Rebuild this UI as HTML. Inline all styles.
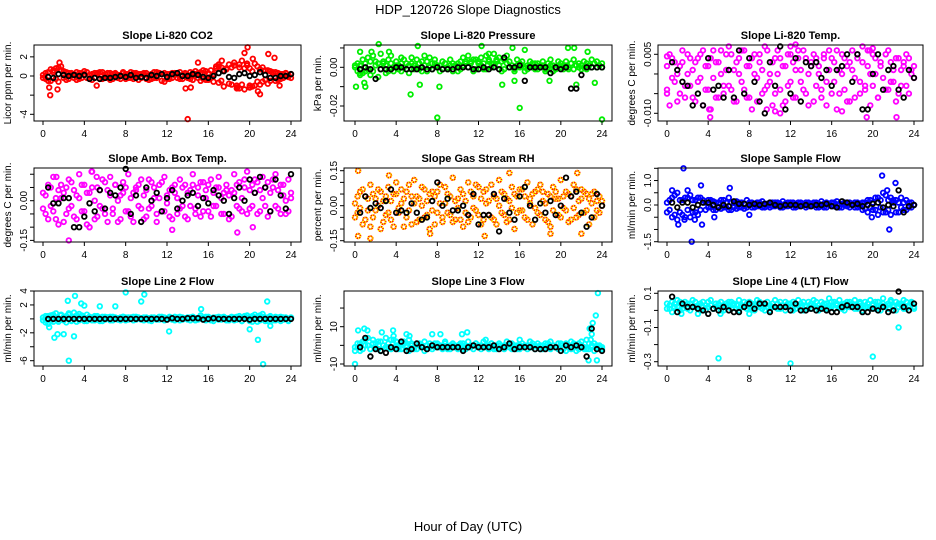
<!DOCTYPE html>
<html><head><meta charset="utf-8"><style>
html,body{margin:0;padding:0;background:#fff}
svg{display:block}
text{font-family:"Liberation Sans",sans-serif;fill:#000}
</style></head><body>
<svg id="chart" width="936" height="540" viewBox="0 0 936 540" xmlns="http://www.w3.org/2000/svg">
<text x="468" y="14" font-size="13" text-anchor="middle">HDP_120726  Slope Diagnostics</text>
<text x="468" y="531" font-size="13" text-anchor="middle">Hour of Day (UTC)</text>
</svg>
<script>
const hours=[0,0.25,0.5,0.75,1,1.25,1.5,1.75,2,2.25,2.5,2.75,3,3.25,3.5,3.75,4,4.25,4.5,4.75,5,5.25,5.5,5.75,6,6.25,6.5,6.75,7,7.25,7.5,7.75,8,8.25,8.5,8.75,9,9.25,9.5,9.75,10,10.25,10.5,10.75,11,11.25,11.5,11.75,12,12.25,12.5,12.75,13,13.25,13.5,13.75,14,14.25,14.5,14.75,15,15.25,15.5,15.75,16,16.25,16.5,16.75,17,17.25,17.5,17.75,18,18.25,18.5,18.75,19,19.25,19.5,19.75,20,20.25,20.5,20.75,21,21.25,21.5,21.75,22,22.25,22.5,22.75,23,23.25,23.5,23.75,24];
const blkHours=[0.5,1,1.5,2,2.5,3,3.5,4,4.5,5,5.5,6,6.5,7,7.5,8,8.5,9,9.5,10,10.5,11,11.5,12,12.5,13,13.5,14,14.5,15,15.5,16,16.5,17,17.5,18,18.5,19,19.5,20,20.5,21,21.5,22,22.5,23,23.5,24];
const xTicks=[0,4,8,12,16,20,24];

// CO2
const co2A=[0.1,-0.3,0.4,-0.5,0.6,0.8,-0.6,1.0,0.5,-0.4,0.3,0.2,-0.2,0.4,-0.3,0.3,0.5,-0.2,0.1,-0.4,0.3,0.2,-0.3,0.4,-0.1,0.3,-0.4,0.2,0.3,-0.2,0.1,0.4,-0.3,0.2,-0.2,0.3,0.1,-0.4,0.2,0.3,-0.3,0.1,0.2,-0.2,0.4,0.3,-0.5,-0.6,0.2,-0.3,0.3,0.1,-0.2,0.4,-0.3,0.2,0.1,-0.3,0.3,0.5,-0.2,0.4,0.6,-0.4,0.3,-0.2,0.2,0.8,1.2,-0.5,0.6,0.7,-0.8,0.9,1.1,-1.0,1.2,-0.9,0.8,1.3,-1.2,0.5,-1.0,1.0,0.7,-0.6,0.6,-0.8,0.5,0.4,-0.5,0.3,-0.3,0.2,0.3,-0.1,0.2];
const co2B=[-0.2,0.3,-0.5,0.7,0.4,-0.3,0.9,0.6,-0.2,0.4,-0.3,0.3,0.2,-0.4,0.3,-0.2,0.2,0.4,-0.3,0.2,-0.2,0.3,0.4,-0.3,0.2,-0.2,0.3,-0.3,0.2,0.1,-0.3,0.3,0.2,-0.2,0.4,-0.3,0.3,0.2,-0.2,0.1,0.3,-0.4,-0.3,0.4,-0.2,0.3,0.2,0.3,-0.3,0.2,-0.2,0.3,0.2,-0.3,0.1,0.3,-0.2,0.4,-0.4,0.2,0.3,-0.5,-0.3,0.5,-0.4,0.6,-0.6,1.0,-0.7,0.9,-1.1,0.8,1.2,-0.9,1.4,-1.3,0.9,1.6,-1.4,1.1,0.8,-1.1,1.3,-0.6,-0.9,0.9,-0.4,0.6,-0.5,0.3,0.4,-0.4,0.2,-0.2,0.3,0.1,-0.2];
const co2K=[-0.1,-0.2,0.2,0.1,0.0,0.1,0.0,0.1,-0.3,-0.2,-0.3,-0.2,-0.2,-0.1,0.0,-0.1,0.1,-0.2,-0.1,-0.2,0.1,0.0,0.2,-0.1,0.2,0.3,0.0,0.0,0.2,0.1,-0.1,-0.2,0.0,0.3,0.5,-0.1,-0.2,0.2,0.3,0.0,0.1,0.4,0.1,-0.2,-0.2,0.0,0.0,0.2];
const co2OX=[14,0.7,0.6,1.4,1.6,5.2,13.8,14.3,15,17.3,17,19.5,19.8,20.3,21.8,22.4,21,20.8,22.9,19,18.8,20];
const co2OY=[-4.5,-2,-1.2,-1.4,1.4,-1,-1.3,-1.2,1.4,1.6,1,2.4,3,1.8,2.3,1.9,-1.9,-1.6,-1,-1.3,-1.2,-1];

// Pressure
const presA=[0.000,0.002,-0.003,0.004,-0.002,0.005,-0.004,0.006,0.003,-0.005,0.007,0.002,-0.003,0.004,0.006,-0.002,0.003,0.001,-0.002,0.004,0.002,-0.003,0.005,0.001,0.004,-0.001,0.003,0.006,-0.002,0.005,0.002,0.004,0.001,-0.002,0.003,0.002,-0.001,0.004,0.002,0.001,-0.002,0.003,0.005,0.002,0.006,0.003,-0.002,0.004,0.002,0.005,-0.001,0.006,0.004,0.002,0.007,0.003,0.005,-0.002,0.004,0.006,0.003,0.001,-0.001,0.004,0.002,0.003,-0.002,0.001,0.003,0.002,-0.001,0.002,0.001,0.003,-0.002,0.002,0.004,0.001,-0.001,0.003,0.002,0.001,0.003,-0.001,0.002,0.004,0.001,0.002,-0.001,0.003,0.002,0.001,0.004,0.002,0.003,0.001,0.002];
const presB=[0.001,-0.002,0.001,-0.003,0.002,-0.001,0.003,-0.002,0.001,0.002,-0.001,0.003,0.001,-0.002,0.002,0.000,0.001,-0.001,0.002,0.000,-0.001,0.001,0.002,-0.001,0.000,0.002,-0.002,0.001,0.003,0.000,-0.001,0.002,0.000,0.001,-0.001,0.002,0.000,0.001,-0.002,0.001,0.002,-0.001,0.001,0.003,0.000,0.002,0.004,-0.001,0.003,0.001,0.002,-0.001,0.003,0.000,0.002,0.004,0.001,0.003,-0.001,0.002,0.000,0.001,-0.002,0.001,0.000,0.001,0.000,-0.001,0.001,0.000,0.002,-0.001,0.000,0.001,-0.001,0.000,0.001,-0.002,0.000,0.001,0.000,-0.001,0.001,0.000,0.002,-0.001,0.001,0.000,0.001,0.000,-0.001,0.001,0.000,0.002,0.000,0.001,0.000];
const presK=[-0.001,0.000,-0.001,-0.006,-0.001,-0.001,-0.001,0.000,0.000,-0.001,-0.001,-0.001,0.000,-0.001,-0.001,0.000,-0.001,-0.001,-0.001,0.000,0.000,0.000,-0.001,-0.001,0.000,-0.001,0.000,-0.001,0.005,0.000,0.000,0.001,-0.007,0.000,0.000,0.000,0.000,-0.003,0.000,-0.001,0.000,-0.011,-0.011,-0.004,0.000,0.000,0.000,0.000];
const presOX=[0.1,0.5,1,1.6,2.3,3.3,4.5,5.4,6.1,6.3,8,8.2,12.3,13,14.3,15.3,15.5,16,16.5,18.9,20.7,21.3,21.5,22.6,23.3,24,0.5,0.9];
const presOY=[-0.010,0.008,-0.010,0.008,0.012,0.008,0.005,-0.014,0.011,-0.009,-0.026,-0.010,0.011,0.007,-0.009,0.010,-0.007,-0.021,0.009,-0.007,0.010,0.010,-0.009,0.008,-0.008,-0.027,-0.004,-0.008];

// Li-820 Temp
const tempA=[0.002,-0.008,0.004,-0.002,0.000,-0.005,0.003,-0.006,0.005,-0.003,0.001,-0.007,0.004,-0.001,0.006,-0.004,0.002,-0.009,0.006,0.003,-0.006,0.000,-0.003,0.005,0.007,-0.004,0.001,-0.007,0.004,-0.002,0.006,-0.006,0.002,-0.009,0.005,-0.001,0.003,-0.005,0.007,-0.003,0.000,-0.008,0.004,0.006,-0.004,0.002,-0.007,0.005,-0.002,0.003,-0.006,0.006,0.001,-0.004,0.004,-0.008,0.002,0.005,-0.003,0.000,-0.006,0.004,-0.002,0.006,-0.005,0.003,-0.009,0.001,0.005,-0.004,0.002,-0.007,0.006,-0.001,0.004,-0.005,0.007,-0.003,0.002,-0.008,0.005,0.000,-0.006,0.003,0.008,-0.004,0.006,-0.002,0.001,-0.007,0.004,-0.003,0.002,0.005,-0.005,0.001,0.002];
const tempB=[-0.004,0.005,-0.001,0.003,-0.007,0.002,0.006,-0.003,0.000,0.004,-0.006,0.003,-0.002,0.005,-0.008,0.002,-0.004,0.004,-0.001,-0.006,0.003,0.006,-0.005,0.001,-0.003,0.005,-0.007,0.003,0.000,0.006,-0.004,0.002,-0.006,0.004,0.000,-0.007,0.005,0.001,-0.004,0.006,-0.002,0.003,-0.005,0.000,0.004,-0.008,0.002,-0.003,0.005,-0.006,0.001,0.004,-0.002,0.006,-0.005,0.000,0.003,-0.007,0.004,0.002,-0.004,0.005,-0.008,0.001,0.004,-0.002,0.006,-0.005,0.000,0.004,-0.007,0.003,0.001,-0.006,0.005,-0.002,0.003,-0.004,0.006,0.000,-0.003,0.004,-0.006,0.002,-0.001,0.005,-0.004,0.003,-0.002,0.004,-0.005,0.001,0.003,-0.003,0.004,0.000,-0.001];
const tempK=[0.003,0.001,-0.002,-0.003,-0.008,-0.005,-0.008,0.004,-0.004,-0.003,-0.006,0.001,-0.006,0.006,-0.005,0.004,-0.002,-0.007,-0.010,0.003,-0.003,0.007,-0.009,-0.005,0.004,-0.007,0.003,0.002,0.003,-0.001,0.001,-0.003,0.001,0.002,0.005,-0.002,0.005,-0.009,-0.009,0.000,0.005,-0.004,0.001,0.002,-0.004,-0.006,0.001,-0.001];
const tempOX=[12,12.5,19.7,20,4.2,11,17,22.3,19.4,9.7,10.5,4.1,0,0];
const tempOY=[0.007,0.0075,0.006,0.0065,-0.011,-0.010,-0.0095,-0.011,-0.011,-0.009,-0.0095,-0.009,-0.005,0.0045];

// Amb Box Temp
const ambA=[0.03,-0.05,0.06,-0.02,0.09,-0.07,0.04,0.01,-0.08,0.05,-0.03,0.07,-0.06,0.02,0.10,-0.04,0.06,-0.09,0.03,0.11,-0.07,0.05,-0.02,0.08,-0.05,0.04,0.09,-0.03,0.06,-0.08,0.02,0.07,-0.04,0.10,-0.06,0.03,0.05,-0.02,0.08,-0.07,0.04,-0.03,0.07,0.01,-0.08,0.06,-0.04,0.09,0.02,-0.06,0.05,0.03,-0.05,0.08,-0.02,0.06,-0.07,0.04,0.10,-0.03,0.05,-0.06,0.07,0.01,-0.04,0.08,-0.02,0.05,0.09,-0.05,0.03,0.06,-0.07,0.04,0.10,-0.02,0.07,-0.04,0.05,0.11,-0.03,0.06,0.08,-0.05,0.04,0.09,-0.02,0.07,-0.04,0.05,0.10,-0.03,0.06,0.02,-0.05,0.08,0.03];
const ambB=[-0.03,0.02,-0.07,0.05,-0.04,0.01,-0.09,0.06,0.03,-0.05,0.08,-0.02,0.04,-0.07,0.01,0.06,-0.04,0.03,-0.10,0.05,0.00,-0.06,0.04,-0.03,0.07,-0.08,0.02,-0.05,0.06,0.00,-0.07,0.03,0.05,-0.04,0.01,-0.08,0.04,0.06,-0.03,0.02,-0.06,0.08,-0.02,0.05,-0.05,0.01,0.07,-0.04,-0.01,0.04,-0.07,0.06,0.01,-0.03,0.05,-0.06,0.03,-0.02,0.06,-0.05,0.02,0.07,-0.04,0.04,0.06,-0.06,0.03,-0.02,0.05,0.01,-0.05,0.04,0.02,-0.06,0.03,0.06,-0.03,0.01,0.08,-0.05,0.04,-0.02,0.03,0.07,-0.04,0.01,0.05,-0.06,0.03,0.08,-0.02,0.04,-0.05,0.06,0.00,-0.04,0.01];
const ambK=[0.05,-0.01,-0.01,0.01,0.01,-0.10,-0.10,-0.06,-0.01,-0.04,0.04,-0.03,0.03,0.02,0.05,0.12,-0.05,0.02,-0.08,0.05,0.00,0.03,-0.04,0.01,0.04,-0.03,0.00,0.02,0.03,-0.02,0.01,-0.01,0.04,0.02,0.00,-0.05,0.01,0.05,0.00,0.08,0.03,0.09,0.05,-0.04,0.08,0.02,-0.03,0.10];
const ambOX=[2.5,4.7,5.2,18.8,12.5,4.5,20.3,1.3];
const ambOY=[-0.15,0.11,0.09,-0.12,-0.11,-0.10,-0.10,0.09];

// Gas Stream RH
const rhA=[0.01,-0.03,0.06,-0.08,0.04,-0.02,0.09,-0.05,0.03,0.07,-0.10,0.02,-0.04,0.08,-0.06,0.05,0.10,-0.03,0.01,-0.09,0.06,-0.02,0.04,0.11,-0.07,0.03,0.08,-0.05,0.02,-0.10,0.06,0.04,-0.03,0.09,-0.07,0.01,0.05,-0.04,0.12,-0.06,0.03,0.07,-0.09,0.02,0.10,-0.05,0.04,-0.02,0.08,-0.08,0.06,0.01,-0.04,0.09,-0.06,0.03,0.11,-0.03,0.05,-0.07,0.02,0.08,-0.10,0.04,-0.02,0.07,-0.05,0.10,0.01,-0.08,0.06,-0.03,0.09,0.02,-0.06,0.05,-0.09,0.08,0.03,-0.04,0.11,-0.01,0.06,-0.07,0.04,0.09,-0.05,0.02,0.07,-0.03,0.05,-0.08,0.01,0.06,-0.02,0.04,0.02];
const rhB=[-0.05,0.04,-0.01,0.07,-0.06,0.03,-0.09,0.05,-0.02,0.00,0.06,-0.07,0.04,-0.03,0.02,-0.09,0.05,-0.01,0.07,0.03,-0.05,0.09,-0.08,0.01,0.04,-0.06,0.00,0.07,-0.04,0.05,-0.02,-0.08,0.06,0.01,-0.05,0.08,-0.03,0.04,-0.07,0.02,-0.01,-0.06,0.05,-0.03,-0.07,0.06,-0.01,0.09,-0.04,0.03,-0.06,0.07,0.02,-0.05,0.04,-0.08,0.00,0.06,-0.04,0.03,-0.06,-0.01,0.05,-0.03,0.07,-0.02,0.04,-0.06,0.03,0.05,-0.01,0.07,-0.04,0.06,0.01,-0.07,0.04,-0.02,0.06,0.03,-0.05,0.04,-0.02,0.05,-0.06,-0.01,0.07,-0.04,0.03,0.06,-0.02,0.03,0.05,-0.05,0.02,-0.03,0.00];
const rhK=[-0.03,0.04,-0.01,0.01,-0.01,0.02,0.07,-0.03,-0.02,-0.03,0.01,-0.03,-0.06,-0.05,0.02,0.10,0.00,0.03,-0.02,-0.02,0.00,-0.04,0.05,-0.08,-0.04,-0.04,0.05,-0.11,0.03,-0.03,-0.06,0.04,0.08,0.00,-0.06,0.01,-0.03,0.02,-0.04,0.00,0.12,0.04,0.06,-0.03,-0.09,-0.05,0.05,0.00];
const rhOX=[0.3,0.3,1.5,3.3,7.7,7.3,12.6,15,21.6,22,19];
const rhOY=[0.15,-0.13,-0.14,0.13,-0.17,-0.12,-0.13,0.14,0.14,-0.12,-0.12];

// Sample Flow
const sfA=[0.1,-0.2,0.3,-0.4,0.5,-0.3,0.2,-0.5,0.3,0.4,-0.3,0.2,-0.4,0.3,0.1,-0.2,0.2,-0.1,0.15,-0.2,0.1,-0.15,0.2,-0.1,0.3,-0.2,0.1,0.15,-0.1,0.1,-0.15,0.2,0.1,-0.1,0.05,0.1,-0.05,0.15,-0.1,0.05,0.1,-0.05,0.1,0.0,-0.1,0.15,0.05,-0.05,0.1,-0.1,0.05,0.1,-0.05,0.0,0.1,-0.05,0.05,0.1,-0.1,0.05,0.15,-0.1,0.1,0.05,-0.05,0.1,0.15,-0.1,0.05,0.1,-0.05,0.1,0.0,0.1,-0.1,0.05,0.1,-0.15,0.2,-0.1,0.1,-0.2,0.3,0.2,-0.3,0.4,-0.2,0.3,0.2,-0.3,0.1,0.3,-0.2,0.2,-0.1,0.1,0.0];
const sfB=[-0.3,0.2,-0.5,0.4,-0.6,0.2,-0.4,0.3,-0.2,-0.5,0.2,-0.3,0.3,-0.2,0.2,0.1,-0.1,0.2,-0.2,0.1,-0.1,0.2,-0.1,0.1,-0.2,0.1,-0.1,-0.15,0.1,-0.1,0.05,-0.1,0.0,0.1,-0.1,-0.05,0.1,-0.1,0.05,-0.05,-0.1,0.1,-0.05,0.1,0.05,-0.1,-0.05,0.1,0.0,0.1,-0.1,-0.05,0.1,0.05,-0.1,0.1,-0.05,0.0,0.1,-0.1,-0.05,0.05,-0.1,0.0,0.1,-0.05,-0.1,0.05,-0.1,0.0,0.1,-0.1,0.05,-0.1,0.1,-0.05,-0.2,0.1,-0.3,0.2,-0.2,0.3,-0.4,-0.1,0.5,-0.3,0.2,-0.4,0.1,0.2,-0.3,-0.1,0.1,-0.2,0.1,-0.1,0.0];
const sfK=[0.1,-0.1,0.1,0.1,-0.1,0.0,0.1,0.1,0.0,-0.1,0.0,-0.05,0.15,0.05,0.05,0.0,0.05,0.0,0.05,0.1,0.0,-0.05,0.0,0.0,0.0,-0.05,0.0,-0.05,0.0,0.0,0.05,-0.05,-0.1,0.15,0.1,0.0,0.05,-0.05,0.0,0.05,0.1,-0.1,0.0,-0.05,0.6,-0.3,-0.05,0.0];
const sfOX=[1.6,2.4,3.3,3.4,1.1,1.7,2.7,0.5,6.1,2,20.9,21.6,22.2,21.4,19.9,4.6,8];
const sfOY=[1.5,-1.5,0.8,-0.8,-0.8,-0.6,-0.6,0.6,0.7,0.6,1.2,-1.0,0.9,0.6,-0.5,-0.5,-0.4];

// Line 2 Flow
const l2A=[0.2,-0.5,0.4,-0.3,0.6,0.2,-0.4,0.5,-0.2,0.4,0.6,-0.3,0.3,0.5,-0.2,0.4,0.2,-0.3,0.3,0.2,-0.2,0.4,0.1,-0.3,0.3,0.2,-0.2,0.3,0.1,-0.1,0.2,0.3,-0.2,0.2,0.1,-0.2,0.3,0.1,-0.1,0.2,0.1,-0.2,0.2,0.1,-0.1,0.3,0.2,-0.2,0.1,0.2,-0.1,0.3,0.1,-0.2,0.2,0.1,-0.1,0.2,0.3,-0.2,0.1,0.2,-0.1,0.3,0.1,-0.2,0.2,0.1,-0.1,0.2,0.3,-0.2,0.1,0.2,-0.2,0.3,0.1,-0.3,0.4,0.2,-0.3,0.4,0.2,-0.4,0.5,0.3,-0.3,0.2,0.4,-0.2,0.3,0.1,-0.3,0.2,0.1,-0.2,0.1];
const l2B=[-0.2,0.4,-0.7,0.5,-0.4,0.8,-0.3,0.6,0.3,-0.5,0.8,-0.2,0.9,-0.4,0.7,0.5,-0.3,0.6,0.3,-0.2,0.4,0.2,-0.3,0.3,-0.1,0.2,0.3,-0.2,0.2,0.1,-0.2,0.3,0.2,-0.1,0.2,0.3,-0.1,0.2,0.1,-0.2,0.2,0.1,-0.3,0.2,0.1,-0.1,0.3,0.2,-0.1,0.3,0.1,-0.2,0.2,0.3,-0.1,0.1,0.2,-0.2,0.3,0.1,-0.1,0.5,0.2,-0.2,0.3,0.1,-0.3,0.2,0.3,-0.1,0.2,0.1,-0.2,0.3,0.2,-0.1,0.4,-0.3,0.3,0.5,0.2,-0.4,0.6,0.3,-0.2,0.7,0.2,-0.3,0.3,0.1,-0.2,0.2,0.3,-0.1,0.2,-0.3,0.2];
const l2K=[0,0,0,0,0,0,0,0,0,0,0,0,0,0,0,0,0,0,0,0,0,0,0,-0.1,0.1,0,0,0.1,0.1,0.1,-0.1,0,0.1,0,0,0,0,0,0,-0.1,0,0,0,0,0,0,0,0];
const l2OX=[0.6,1.1,1.4,2,2.4,2.5,3.1,3,3.7,8,9.5,9.8,12.2,20,20.8,21.3,21.7,22,4,7,5.5,15.3];
const l2OY=[-1.2,-2.7,-2.2,-2.2,2.6,-6,3.3,-2.5,2.2,3.8,2.5,3.5,-1.8,-1.5,-3,-6.5,2.5,-1,1.9,1.8,1.8,1.4];

// Line 3 Flow
const l3A=[-1,1,-3,2,0,4,-2,3,1,-2,2,0,4,-1,3,5,0,-2,1,2,-1,3,0,-2,1,0,-1,2,-2,1,0,-1,1,-1,0,2,-2,0,1,-1,0,1,-2,0,2,-1,0,1,-1,0,2,-1,0,1,-2,0,1,-1,0,2,-1,1,0,-2,0,1,-1,0,2,-1,0,1,-2,0,1,-1,2,0,-1,1,0,-2,1,-1,2,0,-3,1,2,-1,3,-2,0,1,-1,0,-1];
const l3B=[-3,-1,1,-2,3,0,-2,1,-1,2,-3,0,-1,1,-2,3,-1,0,-2,1,0,-3,1,-1,-2,1,0,-3,0,-1,-2,1,-1,0,-2,1,-1,-2,0,-1,-2,0,1,-2,-1,0,-2,1,0,-2,-1,0,-2,1,-1,-2,0,-1,-2,0,1,-2,-1,0,-2,-1,0,-2,-1,1,-2,-1,0,-2,-1,1,-2,0,-1,-2,1,-1,-3,0,-2,1,-1,-2,0,-1,-2,1,-1,-3,0,-1,-2];
const l3K=[-1,4,-6,-2,-3,-4,-1,-2,2,-3,-2,1,-1,-2,0,-1,-1,-1,-1,-1,-3,-1,0,-1,-1,-1,0,-2,-1,1,-2,-1,-1,-1,-2,-2,-2,-1,-1,-3,0,-1,0,-1,-6,9,-2,-3];
const l3OX=[0,0.3,0.9,1.2,2.6,3.7,4,5,5.3,7.5,8.3,10.4,10.9,12.7,16,17,22.3,22.7,22.9,23,23.4,23.1,23.6,22.8,23.5];
const l3OY=[-10,8,9,8,7,8,2,6,5,6,6,6,7,3,3,2,-2,-8,3,6,16,12,28,9,-8];

// Line 4 (LT) Flow
const l4A=[0.04,0.01,0.05,0.02,0.06,0.00,0.03,0.05,0.01,0.04,0.06,0.02,0.03,0.00,0.05,0.03,0.02,0.06,0.01,0.04,0.03,0.05,0.00,0.04,0.02,0.05,0.03,0.01,0.06,0.03,0.02,0.04,0.05,0.01,0.03,0.06,0.02,0.04,0.00,0.05,0.03,0.02,0.06,0.04,0.01,0.03,0.05,0.02,0.04,0.00,0.03,0.06,0.02,0.05,0.03,0.01,0.04,0.06,0.02,0.03,0.05,0.01,0.04,0.07,0.02,0.05,0.03,0.06,0.01,0.04,0.02,0.05,0.03,0.06,0.01,0.04,0.03,0.05,0.02,0.06,0.04,0.01,0.05,0.03,0.07,0.02,0.04,0.06,0.03,0.05,0.02,0.04,0.06,0.01,0.03,0.05,0.02];
const l4B=[0.01,0.03,-0.01,0.04,0.02,0.05,0.01,0.03,0.04,0.00,0.02,0.05,0.01,0.04,0.02,0.00,0.05,0.03,0.01,0.02,0.04,0.00,0.03,0.02,0.05,0.01,0.04,0.03,0.00,0.02,0.05,0.01,0.02,0.04,0.00,0.03,0.05,0.01,0.03,0.02,0.00,0.04,0.02,0.01,0.05,0.03,0.00,0.04,0.02,0.05,0.01,0.03,0.04,0.00,0.02,0.05,0.01,0.03,0.05,0.00,0.02,0.04,0.01,0.03,0.05,0.01,0.04,0.02,0.03,0.00,0.05,0.02,0.04,0.01,0.03,0.05,0.00,0.02,0.04,0.01,0.03,0.05,0.02,0.00,0.04,0.03,0.01,0.05,0.02,0.00,0.04,0.03,0.01,0.05,0.02,0.04,0.01];
const l4K=[0.08,-0.01,0.04,0.02,0.02,0.01,0.00,-0.02,0.01,0.00,0.02,0.00,-0.01,-0.01,0.02,0.04,0.01,0.04,0.04,-0.01,0.02,0.02,0.02,0.00,0.04,0.00,0.00,0.01,0.00,0.01,0.00,-0.01,-0.01,0.02,0.03,0.02,0.02,-0.01,-0.01,0.01,0.00,0.02,-0.01,0.00,0.11,0.02,0.00,0.04];
const l4OX=[5,12,20,22.5,1.4,3,5.2,8];
const l4OY=[-0.28,-0.31,-0.27,-0.1,-0.02,-0.02,-0.02,-0.02];

const NS='http://www.w3.org/2000/svg';
const svg=document.getElementById('chart');
const cols=[{l:34,r:301,x0:43,x1:291},{l:344,r:612,x0:355,x1:602},{l:658,r:923,x0:667,x1:914}];
const rows=[{t:45,b:121},{t:168,b:242},{t:291,b:366}];

const panels=[
 {name:'co2',title:'Slope Li-820 CO2',ylab:'Licor ppm per min.',c:0,r:0,v1:0,y1:76,v2:-4,y2:114.3,ticks:[-4,-2,0,2],labs:['-4','','0','2'],color:'#ff0000',A:co2A,B:co2B,K:co2K,OX:co2OX,OY:co2OY},
 {name:'pressure',title:'Slope Li-820 Pressure',ylab:'kPa per min.',c:1,r:0,v1:0,y1:67.3,v2:-0.02,y2:106,ticks:[-0.02,-0.01,0,0.01],labs:['-0.02','','0.00',''],color:'#00ee00',A:presA,B:presB,K:presK,OX:presOX,OY:presOY},
 {name:'li820-temp',title:'Slope Li-820 Temp.',ylab:'degrees C per min.',c:2,r:0,v1:0.005,y1:54.3,v2:-0.010,y2:113.3,ticks:[-0.010,-0.005,0,0.005],labs:['-0.010','','','0.005'],color:'#ff00ff',A:tempA,B:tempB,K:tempK,OX:tempOX,OY:tempOY},
 {name:'amb-box-temp',title:'Slope Amb. Box Temp.',ylab:'degrees C per min.',c:0,r:1,v1:0,y1:200.7,v2:-0.15,y2:240.4,ticks:[-0.15,-0.10,-0.05,0,0.05,0.10],labs:['-0.15','','','0.00','',''],color:'#ff00ff',A:ambA,B:ambB,K:ambK,OX:ambOX,OY:ambOY},
 {name:'gas-stream-rh',title:'Slope Gas Stream RH',ylab:'percent per min.',c:1,r:1,v1:0,y1:205.7,v2:-0.15,y2:240.7,ticks:[-0.15,-0.10,-0.05,0,0.05,0.10,0.15],labs:['-0.15','','','0.00','','','0.15'],color:'#ff1000',dash:'#ffff00',A:rhA,B:rhB,K:rhK,OX:rhOX,OY:rhOY},
 {name:'sample-flow',title:'Slope Sample Flow',ylab:'ml/min per min.',c:2,r:1,v1:0,y1:205,v2:-1.5,y2:241.7,ticks:[-1.5,-1.0,-0.5,0,0.5,1.0,1.5],labs:['-1.5','','','0.0','','1.0',''],color:'#0000ff',A:sfA,B:sfB,K:sfK,OX:sfOX,OY:sfOY},
 {name:'line2-flow',title:'Slope Line 2 Flow',ylab:'ml/min per min.',c:0,r:2,v1:4,y1:291,v2:-6,y2:360.7,ticks:[-6,-4,-2,0,2,4],labs:['-6','','-2','','2','4'],color:'#00ffff',A:l2A,B:l2B,K:l2K,OX:l2OX,OY:l2OY},
 {name:'line3-flow',title:'Slope Line 3 Flow',ylab:'ml/min per min.',c:1,r:2,v1:10,y1:326.7,v2:-10,y2:364,ticks:[-10,0,10,20],labs:['-10','','10',''],color:'#00ffff',A:l3A,B:l3B,K:l3K,OX:l3OX,OY:l3OY},
 {name:'line4-flow',title:'Slope Line 4 (LT) Flow',ylab:'ml/min per min.',c:2,r:2,v1:0.1,y1:293.3,v2:-0.3,y2:361.7,ticks:[-0.3,-0.2,-0.1,0,0.1],labs:['-0.3','','-0.1','','0.1'],color:'#00ffff',A:l4A,B:l4B,K:l4K,OX:l4OX,OY:l4OY}
];

function mk(tag,attrs,parent){const e=document.createElementNS(NS,tag);for(const k in attrs)e.setAttribute(k,attrs[k]);(parent||svg).appendChild(e);return e;}

panels.forEach(p=>{
 const C=cols[p.c],R=rows[p.r];
 const xs=h=>C.x0+(C.x1-C.x0)*h/24;
 const ys=v=>p.y1+(v-p.v1)*(p.y2-p.y1)/(p.v2-p.v1);
 const g=mk('g',{});
 
 
 const t=mk('text',{x:(C.l+C.r)/2,y:R.t-6,'font-size':11,'font-weight':'bold','text-anchor':'middle'},g);
 t.textContent=p.title;
 
 
 const yl=mk('text',{transform:`translate(${C.l-23},${(R.t+R.b)/2}) rotate(-90)`,'font-size':10,'text-anchor':'middle'},g);
 yl.textContent=p.ylab;
 
 
 const pts=mk('g',{fill:'none','stroke-width':1.8},g);
 
 
 const dot=(x,y,col,dash)=>{
  if(y<R.t-2||y>R.b+2)return;
  const c=mk('circle',{cx:x.toFixed(1),cy:y.toFixed(1),r:2.3,stroke:col},pts);
  
  
  if(dash){const d=mk('circle',{cx:x.toFixed(1),cy:y.toFixed(1),r:2.3,stroke:dash,'stroke-dasharray':'1.2,1.2'},pts);
   
   }
 };
 p.A.forEach((v,i)=>{if(hours[i]!==undefined)dot(xs(hours[i]),ys(v),p.color,p.dash);});
 p.B.forEach((v,i)=>{if(hours[i]!==undefined)dot(xs(hours[i]),ys(v),p.color,p.dash);});
 p.OX.forEach((h,i)=>dot(xs(h),ys(p.OY[i]),p.color,p.dash));
 p.K.forEach((v,i)=>{if(blkHours[i]!==undefined)dot(xs(blkHours[i]),ys(v),'#000');});
 const box=mk('rect',{x:C.l,y:R.t,width:C.r-C.l,height:R.b-R.t,fill:'none',stroke:'#000','stroke-width':1},g);
 
 
 const ya=mk('g',{},g);
 
 
 mk('line',{x1:C.l,x2:C.l,y1:ys(p.ticks[0]),y2:ys(p.ticks[p.ticks.length-1]),stroke:'#000'},ya);
 p.ticks.forEach((v,i)=>{
  const y=ys(v);
  mk('line',{x1:C.l-4,x2:C.l,y1:y,y2:y,stroke:'#000'},ya);
  if(p.labs[i]){const tl=mk('text',{transform:`translate(${C.l-7},${y}) rotate(-90)`,'font-size':10,'text-anchor':'middle'},ya);tl.textContent=p.labs[i];
   
   }
 });
 const xa=mk('g',{},g);
 
 
 mk('line',{x1:xs(0),x2:xs(24),y1:R.b,y2:R.b,stroke:'#000'},xa);
 xTicks.forEach(h=>{
  const x=xs(h);
  mk('line',{x1:x,x2:x,y1:R.b,y2:R.b+4,stroke:'#000'},xa);
  const tl=mk('text',{x:x,y:R.b+16,'font-size':10,'text-anchor':'middle'},xa);tl.textContent=h;
  
  
 });
});
</script>
</body></html>
